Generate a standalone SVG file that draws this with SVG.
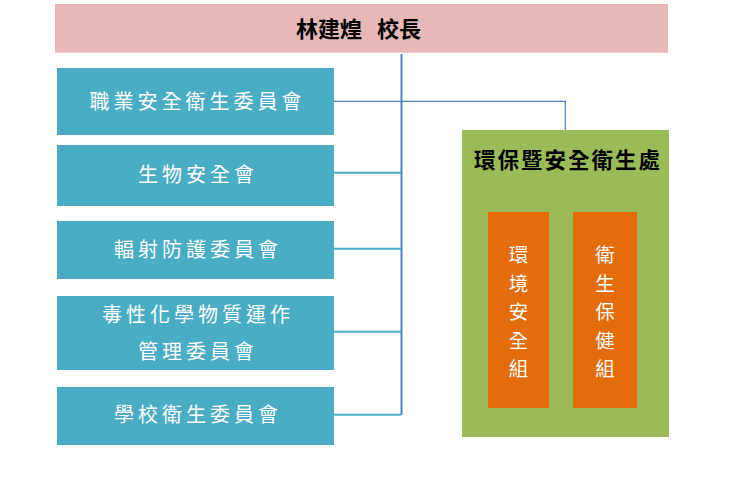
<svg xmlns="http://www.w3.org/2000/svg" width="736" height="478" viewBox="0 0 736 478">
<style>
.cm{fill:#4bacc6}
.ct{font-family:"Noto Sans CJK TC","Noto Sans CJK SC",sans-serif;font-size:20px;fill:#ffffff;text-anchor:middle;letter-spacing:4px}
.vt{font-family:"Noto Sans CJK TC","Noto Sans CJK SC",sans-serif;font-size:19.5px;fill:#ffffff;text-anchor:middle}
.hd{font-family:"Noto Sans CJK TC","Noto Sans CJK SC",sans-serif;font-weight:bold;fill:#000000}
.ln{fill:none;stroke-linecap:butt}
</style>
<rect width="736" height="478" fill="#ffffff"/>
<g id="connectors">
<line class="ln" x1="401.5" y1="54" x2="401.5" y2="415" stroke="#4f81bd" stroke-width="2"/>
<polyline class="ln" points="334,101.3 565.3,101.3 565.3,130" stroke="#4f81bd" stroke-width="1.2"/>
<line class="ln" x1="334" y1="172.7" x2="401" y2="172.7" stroke="#4bacc6" stroke-width="2"/>
<line class="ln" x1="334" y1="248.7" x2="401" y2="248.7" stroke="#4bacc6" stroke-width="2"/>
<line class="ln" x1="334" y1="331.7" x2="401" y2="331.7" stroke="#4bacc6" stroke-width="2"/>
<line class="ln" x1="334" y1="414.7" x2="401" y2="414.7" stroke="#4bacc6" stroke-width="2"/>
</g>
<g id="principal">
<rect x="55" y="4" width="613" height="48.7" fill="#e6b9b8"/>
<text class="hd" font-size="22" y="37"><tspan x="296">林建煌</tspan><tspan x="377">校長</tspan></text>
</g>
<g id="osh-committee">
<rect class="cm" x="57" y="68" width="277" height="67"/>
<text class="ct" x="197.5" y="108.5">職業安全衛生委員會</text>
</g>
<g id="biosafety">
<rect class="cm" x="57" y="145" width="277" height="61"/>
<text class="ct" x="198" y="182">生物安全會</text>
</g>
<g id="radiation">
<rect class="cm" x="57" y="221" width="277" height="58"/>
<text class="ct" x="198" y="256.5">輻射防護委員會</text>
</g>
<g id="toxic-chem">
<rect class="cm" x="57" y="296" width="277" height="74"/>
<text class="ct" x="198" y="322">毒性化學物質運作</text>
<text class="ct" x="198" y="359">管理委員會</text>
</g>
<g id="school-health">
<rect class="cm" x="57" y="387" width="277" height="58"/>
<text class="ct" x="198" y="422">學校衛生委員會</text>
</g>
<g id="ehs-office">
<rect x="462" y="130" width="207" height="307" fill="#9bbb59"/>
<text class="hd" x="568" y="167.5" font-size="21.5" letter-spacing="2" text-anchor="middle">環保暨安全衛生處</text>
</g>
<g id="env-safety">
<rect x="488" y="212" width="61" height="196" fill="#e46c0a"/>
<text class="vt"><tspan x="518.5" y="262">環</tspan><tspan x="518.5" y="290.5">境</tspan><tspan x="518.5" y="319">安</tspan><tspan x="518.5" y="347.5">全</tspan><tspan x="518.5" y="376">組</tspan></text>
</g>
<g id="health-care">
<rect x="573" y="212" width="64" height="196" fill="#e46c0a"/>
<text class="vt"><tspan x="605" y="262">衛</tspan><tspan x="605" y="290.5">生</tspan><tspan x="605" y="319">保</tspan><tspan x="605" y="347.5">健</tspan><tspan x="605" y="376">組</tspan></text>
</g>
</svg>
